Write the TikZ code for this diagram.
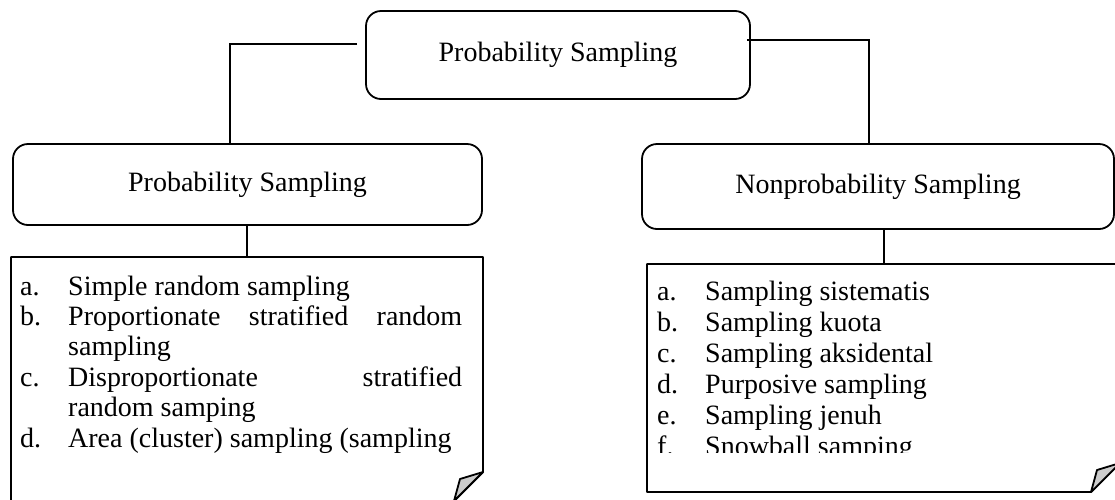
\documentclass[tikz,border=0pt]{standalone}
\usepackage{fontspec}
\setmainfont{Liberation Serif}
\begin{document}
\begin{tikzpicture}[x=1pt,y=-1pt,
  every node/.style={font=\fontsize{28}{30.4}\selectfont},
  roundbox/.style={draw,line width=1.8pt,rounded corners=15pt,inner sep=0pt},
  link/.style={line width=1.8pt},
  note/.style={draw,line width=1.8pt,fill=white,line join=round},
  fold/.style={draw,line width=1.8pt,fill=gray!40,line join=round},
  listtext/.style={anchor=base west,inner sep=0pt}]
 \useasboundingbox (0,0) rectangle (1115,499);
 \clip (0,0) rectangle (1115,499);
 % boxes
 \node[roundbox,minimum width=384pt,minimum height=88pt] (top) at (558,55) {Probability Sampling};
 \node[roundbox,minimum width=469pt,minimum height=81pt] (prob) at (247.5,184.5) {Probability Sampling};
 \node[roundbox,minimum width=472pt,minimum height=85pt] (nonprob) at (878,186.5) {Nonprobability Sampling};
 % links from the top box
 \coordinate (tl) at (357,44);
 \coordinate (lj) at (230,44);
 \coordinate (tr) at (747,40);
 \coordinate (rj) at (869,40);
 \draw[link] (tl) -- (lj) -- (lj |- prob.north);
 \draw[link] (tr) -- (rj) -- (rj |- nonprob.north);
 % notes
 \coordinate (probnote) at (247,257);
 \coordinate (nonprobnote) at (884,264);
 \draw[link] (probnote |- prob.south) -- (probnote);
 \draw[link] (nonprobnote |- nonprob.south) -- (nonprobnote);
 \draw[note] (11,257) -- (483,257) -- (483,472) -- (454,501) -- (11,501) -- cycle;
 \draw[fold] (454,501) -- (460,479) -- (483,472) -- cycle;
 \draw[note] (647,264) -- (1120,264) -- (1120,463) -- (1091,492) -- (647,492) -- cycle;
 \draw[fold] (1091,492) -- (1097,470) -- (1120,463) -- cycle;
 % lists
 \node[listtext] (problist) at (20,295) {\begin{tabular}[t]{@{}p{48pt}@{}l@{}}
  a. & Simple random sampling\\
  b. & \makebox[394pt][s]{Proportionate stratified random}\\
     & sampling\\
  c. & \makebox[394pt][s]{Disproportionate stratified}\\
     & random samping\\
  d. & Area (cluster) sampling (sampling
 \end{tabular}};
 \begin{scope}
  \clip (640,258) rectangle (1115,452);
  \node[listtext,font=\fontsize{28}{31}\selectfont] (nonproblist) at (657,300) {\begin{tabular}[t]{@{}p{48pt}@{}l@{}}
   a. & Sampling sistematis\\
   b. & Sampling kuota\\
   c. & Sampling aksidental\\
   d. & Purposive sampling\\
   e. & Sampling jenuh\\
   f. & Snowball samping
  \end{tabular}};
 \end{scope}
\end{tikzpicture}
\end{document}
